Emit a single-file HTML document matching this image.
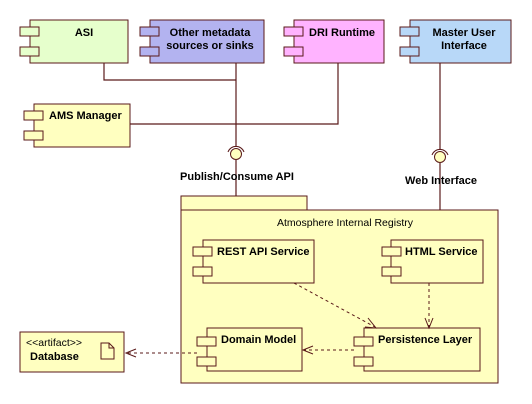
<!DOCTYPE html>
<html><head><style>body{margin:0;background:#fff}svg{display:block}</style></head><body>
<svg width="532" height="404" xmlns="http://www.w3.org/2000/svg" font-family="'Liberation Sans', sans-serif" font-size="11">
<defs>
<g id="p"><rect x="0" y="0" width="19" height="9"/><rect x="0" y="20" width="19" height="9"/></g>
</defs>
<g stroke="#5a1a1a" stroke-width="1.2" fill="none">
<polyline points="104,63 104,80 236,80"/>
<line x1="236" y1="63" x2="236" y2="147"/>
<polyline points="338,63 338,124 130,124"/>
<line x1="440" y1="63" x2="440" y2="150"/>
<line x1="236" y1="160" x2="236" y2="240"/>
<line x1="440" y1="163" x2="440" y2="240"/>
</g>
<g stroke="#5a1a1a" stroke-width="1">
<rect x="30" y="20" width="98" height="43" fill="#e6ffcc"/>
<g fill="#e6ffcc" transform="translate(20,27)"><use href="#p"/></g>
<rect x="150" y="20" width="114" height="43" fill="#b3b3f0"/>
<g fill="#b3b3f0" transform="translate(140,27)"><use href="#p"/></g>
<rect x="294" y="20" width="90" height="43" fill="#ffb3ff"/>
<g fill="#ffb3ff" transform="translate(284,27)"><use href="#p"/></g>
<rect x="410" y="20" width="101" height="43" fill="#b8d8f8"/>
<g fill="#b8d8f8" transform="translate(400,27)"><use href="#p"/></g>
<rect x="34" y="104" width="96" height="43" fill="#ffffc0"/>
<g fill="#ffffc0" transform="translate(24,111)"><use href="#p"/></g>
<circle cx="236" cy="154" r="5.5" fill="#ffffc0"/>
<path d="M228,152 A8.5,8.5 0 0 1 244,152" fill="none"/>
<circle cx="440" cy="157" r="5.5" fill="#ffffc0"/>
<path d="M432,155 A8.5,8.5 0 0 1 448,155" fill="none"/>
<rect x="181" y="196" width="126" height="14" fill="#ffffc0"/>
<rect x="181" y="210" width="317" height="173" fill="#ffffc0"/>
<rect x="203" y="240" width="111" height="43" fill="#ffffc0"/>
<g fill="#ffffc0" transform="translate(193,247)"><use href="#p"/></g>
<rect x="391" y="240" width="92" height="43" fill="#ffffc0"/>
<g fill="#ffffc0" transform="translate(382,247)"><use href="#p"/></g>
<rect x="207" y="328" width="95" height="43" fill="#ffffc0"/>
<g fill="#ffffc0" transform="translate(197,337)"><use href="#p"/></g>
<rect x="364" y="328" width="116" height="43" fill="#ffffc0"/>
<g fill="#ffffc0" transform="translate(354,337)"><use href="#p"/></g>
<rect x="20" y="332" width="104" height="40" fill="#ffffc0"/>
<path d="M101,343 h8 l5,5 v11 h-13 z M109,343 v5 h5" fill="#ffffc0"/>
</g>
<g stroke="#5a1a1a" stroke-width="1" fill="none" stroke-dasharray="3,3">
<line x1="294" y1="283" x2="375" y2="327"/>
<line x1="429" y1="283" x2="429" y2="327"/>
<line x1="354" y1="350" x2="304" y2="350"/>
<line x1="197" y1="353" x2="126" y2="353"/>
</g>
<g stroke="#5a1a1a" stroke-width="1" fill="none">
<polyline points="365,327 376,328 368,318"/>
<polyline points="425,318 429,328 433,318"/>
<polyline points="313,346 303,350 313,354"/>
<polyline points="136,349 126,353 136,357"/>
</g>
<g font-weight="bold" fill="#000" text-anchor="middle">
<text x="84" y="36">ASI</text>
<text x="210" y="36">Other metadata</text>
<text x="210" y="49">sources or sinks</text>
<text x="342" y="36">DRI Runtime</text>
<text x="464" y="36">Master User</text>
<text x="464" y="49">Interface</text>
<text x="237" y="180">Publish/Consume API</text>
<text x="441" y="184">Web Interface</text>
</g>
<g font-weight="bold" fill="#000">
<text x="49" y="119">AMS Manager</text>
<text x="217" y="255">REST API Service</text>
<text x="405" y="255">HTML Service</text>
<text x="221" y="343">Domain Model</text>
<text x="378" y="343">Persistence Layer</text>
<text x="30" y="360">Database</text>
</g>
<text x="345" y="226" text-anchor="middle" font-size="10.5">Atmosphere Internal Registry</text>
<text x="26" y="346" font-size="10.5">&lt;&lt;artifact&gt;&gt;</text>
</svg>
</body></html>
